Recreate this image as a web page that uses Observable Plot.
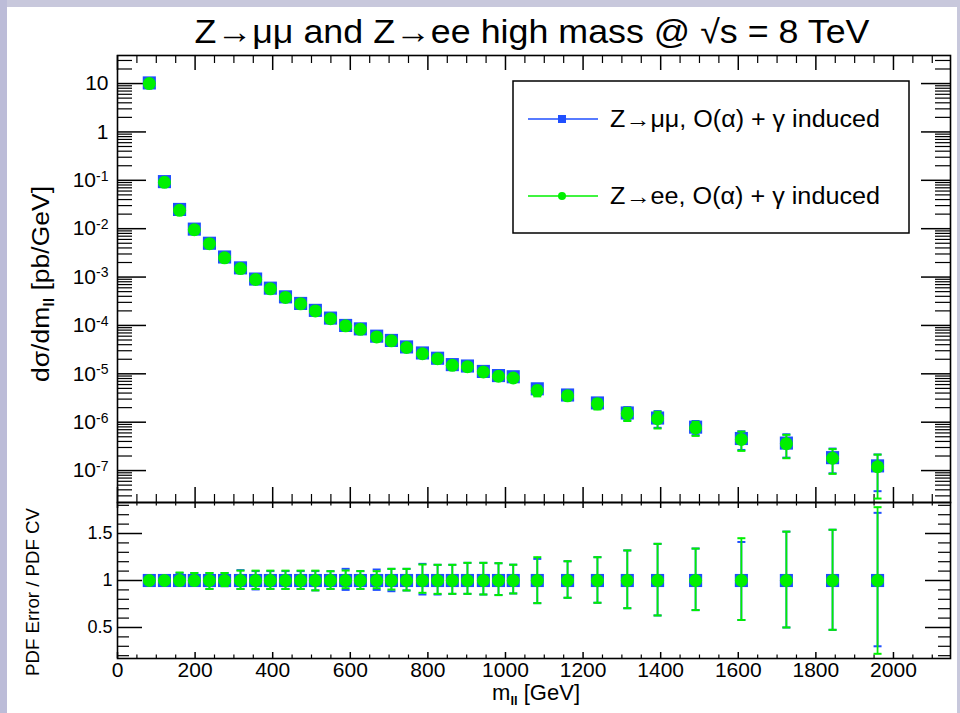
<!DOCTYPE html>
<html><head><meta charset="utf-8">
<script src="https://cdn.jsdelivr.net/npm/d3@7"></script>
<script src="https://cdn.jsdelivr.net/npm/@observablehq/plot@0.6"></script>
<style>
body{margin:0;background:#fff;}
#wrap{position:relative;width:960px;height:713px;background:#fff;overflow:hidden;font-family:"Liberation Sans",Arial,Helvetica,sans-serif;}
#wrap svg{position:absolute;left:0;overflow:visible;}
.stripeL{position:absolute;left:0;top:0;width:7px;height:713px;background:#bcbcd8;}
.stripeT{position:absolute;left:0;top:0;width:960px;height:7px;background:#c8c8dc;}
.stripeR{position:absolute;right:0;top:0;width:3px;height:713px;background:#c8c8dc;}
</style></head><body><div id="wrap"><div class="stripeT"></div><div class="stripeL"></div><div class="stripeR"></div></div>
<script>
// ---- data ----
const mass = [82,121,160,198,237,276,317,356,394,433,472,510,549,588,626,668,706,745,786,825,863,902,943,982,1020,1082,1160,1237,1314,1392,1490,1608,1724,1843,1959];
const xsecEE = [10,0.091,0.024,0.0095,0.0049,0.0025,0.0015,8.9e-4,5.7e-4,3.8e-4,2.8e-4,2.0e-4,1.38e-4,9.8e-5,8.3e-5,5.8e-5,4.8e-5,3.5e-5,2.6e-5,2.05e-5,1.5e-5,1.4e-5,1.09e-5,8.9e-6,8.2e-6,4.5e-6,3.5e-6,2.4e-6,1.5e-6,1.18e-6,7.6e-7,4.4e-7,3.6e-7,1.8e-7,1.2e-7];
const xsecMuMu = [10.3,0.094,0.025,0.0098,0.005,0.0026,0.00155,9.1e-4,5.9e-4,3.9e-4,2.85e-4,2.05e-4,1.42e-4,1.0e-4,8.5e-5,6.0e-5,4.9e-5,3.6e-5,2.7e-5,2.1e-5,1.55e-5,1.45e-5,1.12e-5,9.2e-6,8.7e-6,4.9e-6,3.65e-6,2.5e-6,1.55e-6,1.22e-6,7.9e-7,4.6e-7,3.7e-7,1.85e-7,1.25e-7];
const ratioEE = [1,1,1,1,1,1,1,1,1,1,1,1,1,1,1,1,1,1,1,1,1,1,1,1,1,1,1,1,1,1,1,1,1,1,1];
const ratioMuMu = [1,1,1,1,1,1,1,1,1,1,1,1,1,1,1,1,1,1,1,1,1,1,1,1,1,1,1,1,1,1,1,1,1,1,1];
const errHiEE = [1.01,1.01,1.085,1.08,1.08,1.08,1.105,1.105,1.105,1.105,1.105,1.105,1.099,1.106,1.10,1.099,1.124,1.124,1.17,1.167,1.167,1.188,1.188,1.184,1.168,1.248,1.205,1.248,1.32,1.39,1.34,1.45,1.52,1.54,1.78];
const errLoEE = [0.99,0.99,0.95,0.95,0.91,0.94,0.91,0.91,0.91,0.91,0.91,0.895,0.91,0.918,0.91,0.918,0.904,0.894,0.869,0.858,0.858,0.858,0.851,0.845,0.862,0.759,0.816,0.763,0.705,0.628,0.685,0.58,0.50,0.475,0.22];
const errHiMuMu = [1.01,1.01,1.08,1.08,1.08,1.08,1.11,1.10,1.10,1.10,1.10,1.10,1.099,1.124,1.10,1.117,1.124,1.124,1.177,1.167,1.167,1.188,1.188,1.184,1.168,1.23,1.205,1.248,1.32,1.39,1.34,1.41,1.52,1.54,1.72];
const errLoMuMu = [0.99,0.99,0.95,0.95,0.91,0.94,0.91,0.905,0.91,0.91,0.91,0.895,0.91,0.90,0.91,0.90,0.886,0.894,0.851,0.851,0.858,0.858,0.851,0.845,0.862,0.759,0.816,0.763,0.705,0.628,0.685,0.58,0.50,0.475,0.30];
const xTicks = [0,200,400,600,800,1000,1200,1400,1600,1800,2000];
const yTopTicks = [1e-7,1e-6,1e-5,1e-4,1e-3,1e-2,1e-1,1,10];
const yTopLabels = ["10^-7","10^-6","10^-5","10^-4","10^-3","10^-2","10^-1","1","10"];
const yBotTicks = [0.5,1,1.5];
const yBotLabels = ["0.5","1","1.5"];
const titleText = "Z\u2192\u03bc\u03bc and Z\u2192ee high mass @ \u221as = 8 TeV";
const legendLabels = ["Z\u2192\u03bc\u03bc, O(\u03b1) + \u03b3 induced", "Z\u2192ee, O(\u03b1) + \u03b3 induced"];

// ---- styling ----
const BLUE = "#1f4fff", GREEN = "#00f000";
const FONT = "Liberation Sans, Arial, Helvetica, sans-serif";
const W = 960, ML = 117, MR = 10;
const xDomain = [0, 2147];
const frameW = W - ML - MR;

const xMinor = d3.range(50, 2147, 50).filter(v => v % 200 !== 0);
const yTopMinor = [];
for (let k = -8; k <= 1; k++) for (let m = 2; m <= 9; m++) { const v = m * Math.pow(10, k); if (v > 2.19e-8 && v < 38) yTopMinor.push(v); }
const yBotMinor = [0.2,0.3,0.4,0.6,0.7,0.8,0.9,1.1,1.2,1.3,1.4,1.6,1.7,1.8];

const cap = {draw(ctx) { ctx.moveTo(-4, 0); ctx.lineTo(4, 0); }};

const topRows = (v, hi, lo) => mass.map((m, i) => ({m, v: v[i], hi: v[i] * hi[i], lo: v[i] * lo[i]}));
const botRows = (v, hi, lo) => mass.map((m, i) => ({m, v: v[i], hi: hi[i], lo: lo[i]}));

function dataMarks(rowsMM, rowsEE) {
  return [
    Plot.ruleX(rowsMM, {x: "m", y1: "lo", y2: "hi", stroke: BLUE, strokeWidth: 1.8}),
    Plot.dot(rowsMM, {x: "m", y: "lo", symbol: cap, stroke: BLUE, strokeWidth: 2, fill: "none"}),
    Plot.dot(rowsMM, {x: "m", y: "hi", symbol: cap, stroke: BLUE, strokeWidth: 2, fill: "none"}),
    Plot.dot(rowsMM, {x: "m", y: "v", symbol: "square", r: 7.4, fill: BLUE, stroke: "none"}),
    Plot.ruleX(rowsEE, {x: "m", y1: "lo", y2: "hi", stroke: GREEN, strokeWidth: 1.8}),
    Plot.dot(rowsEE, {x: "m", y: "lo", symbol: cap, stroke: GREEN, strokeWidth: 2, fill: "none"}),
    Plot.dot(rowsEE, {x: "m", y: "hi", symbol: cap, stroke: GREEN, strokeWidth: 2, fill: "none"}),
    Plot.dot(rowsEE, {x: "m", y: "v", symbol: "circle", r: 6.5, fill: GREEN, stroke: "none"})
  ];
}

// ---- top panel ----
const TOPH = 504, TMT = 55, TMB = 2, tFrameH = TOPH - TMT - TMB;
const topPlot = Plot.plot({
  width: W, height: TOPH, marginTop: TMT, marginBottom: TMB, marginLeft: ML, marginRight: MR,
  style: {fontFamily: FONT, background: "transparent", overflow: "visible"},
  x: {domain: xDomain, axis: null},
  y: {type: "log", domain: [Math.pow(10, -7.66), Math.pow(10, 1.58)], axis: null},
  marks: [
    Plot.tickX(xTicks, {x: d => d, insetTop: tFrameH - 15, stroke: "black", strokeWidth: 1.5}),
    Plot.tickX(xMinor, {x: d => d, insetTop: tFrameH - 8, stroke: "black", strokeWidth: 1.2}),
    Plot.tickX(xTicks, {x: d => d, insetBottom: tFrameH - 15, stroke: "black", strokeWidth: 1.5}),
    Plot.tickX(xMinor, {x: d => d, insetBottom: tFrameH - 8, stroke: "black", strokeWidth: 1.2}),
    Plot.tickY(yTopTicks, {y: d => d, insetRight: frameW - 29, stroke: "black", strokeWidth: 1.5}),
    Plot.tickY(yTopMinor, {y: d => d, insetRight: frameW - 15, stroke: "black", strokeWidth: 1.2}),
    Plot.tickY(yTopTicks, {y: d => d, insetLeft: frameW - 29, stroke: "black", strokeWidth: 1.5}),
    Plot.tickY(yTopMinor, {y: d => d, insetLeft: frameW - 15, stroke: "black", strokeWidth: 1.2}),
    Plot.axisY({ticks: yTopTicks, tickSize: 0, tickPadding: 9, fontSize: 21, label: null,
      tickFormat: d => yTopLabels[yTopTicks.indexOf(d)]}),
    ...dataMarks(topRows(xsecMuMu, errHiMuMu, errLoMuMu), topRows(xsecEE, errHiEE, errLoEE)),
    Plot.frame({stroke: "black", strokeWidth: 1.6})
  ]
});
topPlot.style.top = "0px";

// ---- bottom panel ----
const BOTTOP = 500, BOTH = 213, BMT = 2, BMB = 55, bFrameH = BOTH - BMT - BMB;
const botPlot = Plot.plot({
  width: W, height: BOTH, marginTop: BMT, marginBottom: BMB, marginLeft: ML, marginRight: MR,
  style: {fontFamily: FONT, background: "transparent", overflow: "visible"},
  x: {domain: xDomain, axis: null},
  y: {domain: [0.17, 1.83], axis: null},
  marks: [
    Plot.tickX(xTicks, {x: d => d, insetTop: bFrameH - 6, stroke: "black", strokeWidth: 1.5}),
    Plot.tickX(xMinor, {x: d => d, insetTop: bFrameH - 3.5, stroke: "black", strokeWidth: 1.2}),
    Plot.tickX(xTicks, {x: d => d, insetBottom: bFrameH - 6, stroke: "black", strokeWidth: 1.5}),
    Plot.tickX(xMinor, {x: d => d, insetBottom: bFrameH - 3.5, stroke: "black", strokeWidth: 1.2}),
    Plot.tickY(yBotTicks, {y: d => d, insetRight: frameW - 25, stroke: "black", strokeWidth: 1.5}),
    Plot.tickY(yBotMinor, {y: d => d, insetRight: frameW - 12, stroke: "black", strokeWidth: 1.2}),
    Plot.tickY(yBotTicks, {y: d => d, insetLeft: frameW - 25, stroke: "black", strokeWidth: 1.5}),
    Plot.tickY(yBotMinor, {y: d => d, insetLeft: frameW - 12, stroke: "black", strokeWidth: 1.2}),
    Plot.axisY({ticks: yBotTicks, tickSize: 0, tickPadding: 5, fontSize: 18, label: null,
      tickFormat: d => yBotLabels[yBotTicks.indexOf(d)]}),
    Plot.axisX({ticks: xTicks, tickSize: 0, tickPadding: 4, fontSize: 21, label: null, tickFormat: d => String(d)}),
    ...dataMarks(botRows(ratioMuMu, errHiMuMu, errLoMuMu), botRows(ratioEE, errHiEE, errLoEE)),
    Plot.frame({stroke: "black", strokeWidth: 1.6})
  ]
});
botPlot.style.top = BOTTOP + "px";

const wrap = document.getElementById("wrap");
wrap.appendChild(topPlot);
wrap.appendChild(botPlot);

// superscript exponents on log labels
topPlot.querySelectorAll('[aria-label="y-axis tick label"] text').forEach(t => {
  const s = t.textContent;
  if (s.includes("^")) {
    const [b, e] = s.split("^");
    t.textContent = b;
    const sp = document.createElementNS("http://www.w3.org/2000/svg", "tspan");
    sp.setAttribute("dy", "-0.45em");
    sp.setAttribute("font-size", "14");
    sp.textContent = e;
    t.appendChild(sp);
  }
});

// ---- titles, axis titles, legend ----
const ts = d3.select(topPlot);
ts.append("text").attr("x", 532).attr("y", 43).attr("text-anchor", "middle")
  .attr("font-size", 33).attr("font-family", FONT).attr("textLength", 675).attr("lengthAdjust", "spacingAndGlyphs")
  .attr("fill", "black").text(titleText);

const yt = ts.append("text").attr("transform", "translate(49,284) rotate(-90)").attr("text-anchor", "middle")
  .attr("font-size", 23).attr("font-family", FONT).attr("fill", "black")
  .attr("textLength", 196).attr("lengthAdjust", "spacingAndGlyphs");
yt.append("tspan").text("d\u03c3/dm");
yt.append("tspan").attr("font-size", 14).attr("dy", 5).attr("font-weight", "bold").text("ll");
yt.append("tspan").attr("dy", -5).text(" [pb/GeV]");

// legend
const lg = ts.append("g");
lg.append("rect").attr("x", 513).attr("y", 81).attr("width", 396).attr("height", 152)
  .attr("fill", "white").attr("stroke", "black").attr("stroke-width", 1.5);
const entries = [{y: 119, c: BLUE, sym: "sq"}, {y: 196, c: GREEN, sym: "ci"}];
entries.forEach((e, i) => {
  lg.append("line").attr("x1", 528).attr("x2", 598).attr("y1", e.y).attr("y2", e.y).attr("stroke", e.c).attr("stroke-width", 1.5);
  if (e.sym === "sq") lg.append("rect").attr("x", 558).attr("y", e.y - 4).attr("width", 8).attr("height", 8).attr("fill", e.c);
  else lg.append("circle").attr("cx", 562).attr("cy", e.y).attr("r", 4).attr("fill", e.c);
  lg.append("text").attr("x", 610).attr("y", e.y + 8).attr("text-anchor", "start").attr("font-size", 23).attr("font-family", FONT)
    .attr("textLength", 270).attr("lengthAdjust", "spacingAndGlyphs").attr("fill", "black").text(legendLabels[i]);
});

const bs = d3.select(botPlot);
bs.append("text").attr("transform", "translate(39,92) rotate(-90)").attr("text-anchor", "middle")
  .attr("font-size", 18).attr("font-family", FONT).attr("fill", "black")
  .attr("textLength", 168).attr("lengthAdjust", "spacingAndGlyphs").text("PDF Error / PDF CV");
const xt = bs.append("text").attr("x", 580).attr("y", 200).attr("text-anchor", "end")
  .attr("font-size", 22).attr("font-family", FONT).attr("fill", "black");
xt.append("tspan").text("m");
xt.append("tspan").attr("font-size", 13).attr("dy", 5).attr("font-weight", "bold").text("ll");
xt.append("tspan").attr("dy", -5).text(" [GeV]");
</script></body></html>
